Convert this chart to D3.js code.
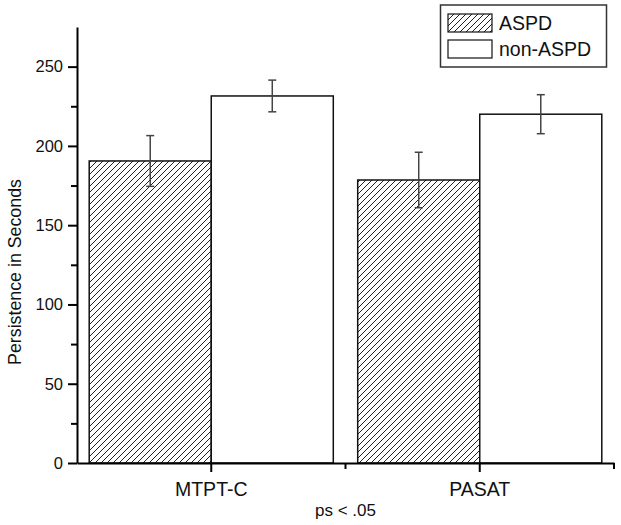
<!DOCTYPE html>
<html>
<head>
<meta charset="utf-8">
<script src="https://cdn.jsdelivr.net/npm/d3@7"></script>
<style>
  body { margin: 0; background: #fff; }
  svg { display: block; font-family: Arial, "Liberation Sans", Helvetica, sans-serif; }
</style>
</head>
<body>
<svg id="chart" width="621" height="525"></svg>
<script>
const categories = ["MTPT-C", "PASAT"];
const groups = ["ASPD", "non-ASPD"];
const aspdMeans = [190.5, 178.5];
const aspdErrors = [16, 17.5];
const nonAspdMeans = [231.5, 220];
const nonAspdErrors = [10, 12.3];
const yTicks = [0, 50, 100, 150, 200, 250];
const yMinorTicks = [25, 75, 125, 175, 225];
const yLabel = "Persistence in Seconds";
const xNote = "ps < .05";

const data = [];
categories.forEach((c, i) => {
  data.push({cat: c, group: groups[0], mean: aspdMeans[i], err: aspdErrors[i]});
  data.push({cat: c, group: groups[1], mean: nonAspdMeans[i], err: nonAspdErrors[i]});
});

const svg = d3.select("#chart");
const margin = {left: 77, right: 7, top: 27, bottom: 62};
const W = 621, H = 525;

const defs = svg.append("defs");
const pat = defs.append("pattern")
  .attr("id", "hatch").attr("patternUnits", "userSpaceOnUse")
  .attr("width", 6).attr("height", 6);
pat.append("rect").attr("width", 6).attr("height", 6).attr("fill", "#fff");
pat.append("path").attr("d", "M-1,7 L7,-1 M-4,4 L4,-4 M2,10 L10,2")
  .attr("stroke", "#222").attr("stroke-width", 1);

const x0 = d3.scaleBand().domain(categories).range([margin.left, W - margin.right]).paddingInner(0).paddingOuter(0);
const x1 = d3.scaleBand().domain(groups).range([0, x0.bandwidth()]).paddingInner(0).paddingOuter(0.1);
const y = d3.scaleLinear().domain([0, 275]).range([H - margin.bottom, margin.top]);

// bars
svg.append("g").selectAll("rect").data(data).join("rect")
  .attr("x", d => x0(d.cat) + x1(d.group))
  .attr("y", d => y(d.mean))
  .attr("width", x1.bandwidth())
  .attr("height", d => y(0) - y(d.mean))
  .attr("fill", d => d.group === groups[0] ? "url(#hatch)" : "#fff")
  .attr("stroke", "#111").attr("stroke-width", 1.5);

// error bars
const eb = svg.append("g").attr("stroke", "#444").attr("stroke-width", 1.5).attr("fill", "none");
data.forEach(d => {
  const cx = x0(d.cat) + x1(d.group) + x1.bandwidth() / 2;
  eb.append("line").attr("x1", cx).attr("x2", cx).attr("y1", y(d.mean + d.err)).attr("y2", y(d.mean - d.err));
  eb.append("line").attr("x1", cx - 4).attr("x2", cx + 4).attr("y1", y(d.mean + d.err)).attr("y2", y(d.mean + d.err));
  eb.append("line").attr("x1", cx - 4).attr("x2", cx + 4).attr("y1", y(d.mean - d.err)).attr("y2", y(d.mean - d.err));
});

// y axis
const yAxis = svg.append("g").attr("transform", `translate(${margin.left},0)`)
  .call(d3.axisLeft(y).tickValues(yTicks).tickSize(9).tickPadding(5).tickSizeOuter(0));
yAxis.select(".domain").attr("stroke", "#000").attr("stroke-width", 2);
yAxis.selectAll(".tick line").attr("stroke", "#000").attr("stroke-width", 2);
yAxis.selectAll("text").attr("font-size", 16.5).attr("fill", "#111").attr("font-family", "Arial, 'Liberation Sans', sans-serif");
const yMinor = svg.append("g").attr("transform", `translate(${margin.left},0)`)
  .call(d3.axisLeft(y).tickValues(yMinorTicks).tickSize(6).tickFormat(""));
yMinor.select(".domain").remove();
yMinor.selectAll(".tick line").attr("stroke", "#000").attr("stroke-width", 2);

// x axis
const xAxis = svg.append("g").attr("transform", `translate(0,${y(0)})`)
  .call(d3.axisBottom(x0).tickSize(9).tickPadding(10).tickSizeOuter(0));
xAxis.select(".domain").attr("stroke", "#000").attr("stroke-width", 2);
xAxis.selectAll(".tick line").attr("stroke", "#000").attr("stroke-width", 2);
xAxis.selectAll("text").attr("font-size", 19.5).attr("fill", "#111").attr("font-family", "Arial, 'Liberation Sans', sans-serif");
// minor x ticks at band boundaries
const bounds = categories.slice(1).map(c => x0(c)).concat([x0(categories[categories.length - 1]) + x0.bandwidth()]);
svg.append("g").selectAll("line").data(bounds).join("line")
  .attr("x1", d => d).attr("x2", d => d).attr("y1", y(0)).attr("y2", y(0) + 6)
  .attr("stroke", "#000").attr("stroke-width", 2);

// note under x axis
svg.append("text").attr("x", x0(categories[1])).attr("y", 516)
  .attr("text-anchor", "middle").attr("font-size", 17).attr("fill", "#111").text(xNote);

// y label
svg.append("text").attr("transform", `translate(21,272) rotate(-90)`)
  .attr("text-anchor", "middle").attr("font-size", 17.8).attr("fill", "#111").text(yLabel);

// legend
const lg = svg.append("g");
lg.append("rect").attr("x", 440.5).attr("y", 5).attr("width", 166).attr("height", 62)
  .attr("fill", "#fff").attr("stroke", "#333").attr("stroke-width", 1.5);
groups.forEach((g, i) => {
  const yy = 14 + i * 26;
  lg.append("rect").attr("x", 448).attr("y", yy).attr("width", 44).attr("height", 18)
    .attr("fill", i === 0 ? "url(#hatch)" : "#fff").attr("stroke", "#111").attr("stroke-width", 1.2);
  lg.append("text").attr("x", 499).attr("y", yy + 16).attr("font-size", 19.5).attr("fill", "#111").text(g);
});
</script>
</body>
</html>
